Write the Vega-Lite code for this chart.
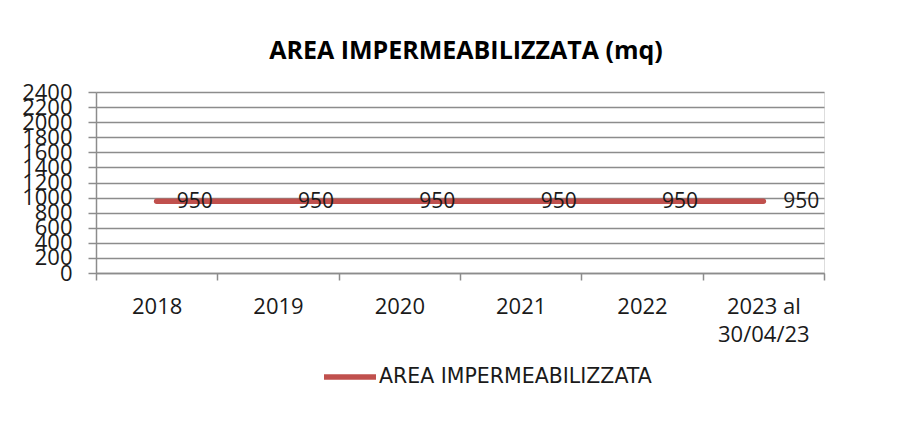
{
  "$schema": "https://vega.github.io/schema/vega-lite/v6.json",
  "width": 728,
  "height": 181,
  "autosize": "none",
  "padding": {"left": 96, "top": 92, "right": 85, "bottom": 163},
  "background": "white",
  "title": {"text": "AREA IMPERMEABILIZZATA (mq)", "font": "Open Sans", "fontSize": 25, "fontWeight": "bold", "color": "#000000", "anchor": "middle", "offset": 17, "dx": 6},
  "data": {"values": [
    {"anno": "2018", "valore": 950, "serie": "AREA IMPERMEABILIZZATA"},
    {"anno": "2019", "valore": 950, "serie": "AREA IMPERMEABILIZZATA"},
    {"anno": "2020", "valore": 950, "serie": "AREA IMPERMEABILIZZATA"},
    {"anno": "2021", "valore": 950, "serie": "AREA IMPERMEABILIZZATA"},
    {"anno": "2022", "valore": 950, "serie": "AREA IMPERMEABILIZZATA"},
    {"anno": "2023 al 30/04/23", "valore": 950, "serie": "AREA IMPERMEABILIZZATA"}
  ]},
  "encoding": {
    "x": {
      "field": "anno", "type": "nominal", "sort": null, "title": null,
      "scale": {"type": "band", "paddingInner": 0, "paddingOuter": 0},
      "axis": {
        "labelAngle": 0, "tickBand": "extent", "tickSize": 7, "tickColor": "#8c8c8c", "tickWidth": 1.5,
        "domainColor": "#8c8c8c", "domainWidth": 1.5,
        "labelFont": "Open Sans", "labelFontSize": 22, "labelColor": "#1a1a1a", "labelPadding": 16,
        "labelLineHeight": 28,
        "labelExpr": "datum.value == '2023 al 30/04/23' ? ['2023 al', '30/04/23'] : datum.value"
      }
    },
    "y": {
      "field": "valore", "type": "quantitative", "title": null,
      "scale": {"domain": [0, 2400], "nice": false},
      "axis": {
        "values": [0, 200, 400, 600, 800, 1000, 1200, 1400, 1600, 1800, 2000, 2200, 2400],
        "format": "d",
        "grid": true, "gridColor": "#8c8c8c", "gridWidth": 1.5,
        "domainColor": "#8c8c8c", "domainWidth": 1.5,
        "tickSize": 8, "tickColor": "#8c8c8c", "tickWidth": 1.5,
        "labelFont": "Open Sans", "labelFontSize": 22, "labelColor": "#1a1a1a", "labelPadding": 16,
        "labelOverlap": false, "labelFlush": false
      }
    }
  },
  "layer": [
    {
      "mark": {"type": "line", "strokeWidth": 5.5, "strokeCap": "round"},
      "encoding": {
        "color": {
          "field": "serie", "type": "nominal",
          "scale": {"range": ["#c0504d"]},
          "legend": {
            "title": null, "orient": "none", "legendX": 225, "legendY": 256,
            "symbolType": "stroke", "symbolSize": 2704, "symbolStrokeWidth": 5.5,
            "labelFont": "DejaVu Sans", "labelFontSize": 20.5, "labelColor": "#1a1a1a", "labelOffset": 0, "labelLimit": 0
          }
        }
      }
    },
    {
      "mark": {"type": "text", "align": "left", "baseline": "middle", "dx": 20, "dy": 1, "font": "Open Sans", "fontSize": 21, "color": "#1a1a1a"},
      "encoding": {"text": {"field": "valore", "type": "quantitative"}}
    }
  ]
}
